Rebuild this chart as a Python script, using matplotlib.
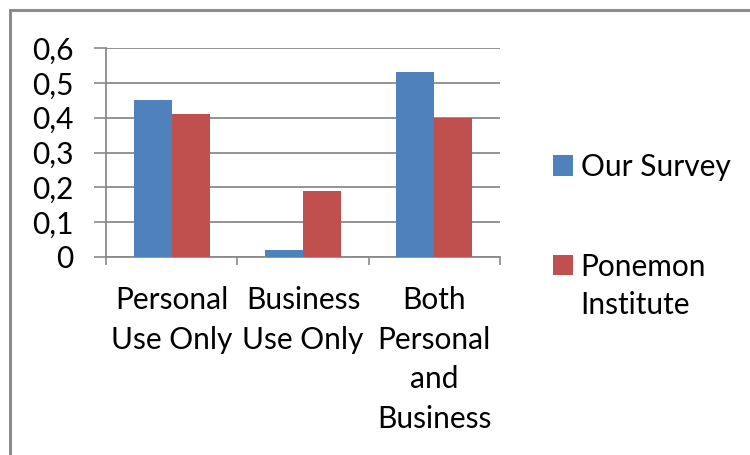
import matplotlib.pyplot as plt
from matplotlib.patches import Rectangle

# usage categories and survey shares
categories = ["Personal\nUse Only", "Business\nUse Only", "Both\nPersonal\nand\nBusiness"]
our_survey = [0.45, 0.02, 0.53]
ponemon = [0.41, 0.19, 0.40]
yticks = [0, 0.1, 0.2, 0.3, 0.4, 0.5, 0.6]
ytick_labels = ["0", "0,1", "0,2", "0,3", "0,4", "0,5", "0,6"]

BLUE = "#4F81BD"
RED = "#C0504D"
GRID = "#8a8a8a"
FS = 21.5

plt.rcParams["font.family"] = ["Lato", "DejaVu Sans"]

fig = plt.figure(figsize=(7.5, 4.55), dpi=100)
ax = fig.add_axes([106 / 750, 1 - 257 / 455, 394 / 750, 209 / 455])

x = list(range(len(categories)))
w = 0.29
ax.bar([i - w / 2 for i in x], our_survey, w, color=BLUE, label="Our Survey", zorder=3)
ax.bar([i + w / 2 for i in x], ponemon, w, color=RED, label="Ponemon", zorder=3)

ax.set_xlim(-0.5, len(categories) - 0.5)
ax.set_ylim(0, 0.6)

ax.set_yticks(yticks)
ax.set_yticklabels(ytick_labels)
ax.yaxis.grid(True, color=GRID, linewidth=1.3, zorder=0)
ax.tick_params(axis="y", length=8.5, width=1.2, color=GRID, pad=15, labelsize=FS)

# boundary ticks between groups, labels centred under each group
ax.set_xticks([i - 0.5 for i in range(len(categories) + 1)])
ax.set_xticklabels([])
ax.set_xticks(x, minor=True)
ax.set_xticklabels(categories, minor=True, linespacing=1.5)
ax.tick_params(axis="x", which="major", length=6, width=1.2, color=GRID)
ax.tick_params(axis="x", which="minor", length=0, pad=21, labelsize=FS)

for side in ["top", "right"]:
    ax.spines[side].set_visible(False)
for side in ["left", "bottom"]:
    ax.spines[side].set_color(GRID)
    ax.spines[side].set_linewidth(1.3)

leg = ax.legend(loc="upper left", bbox_to_anchor=(538 / 750, 1 - 138 / 455),
                bbox_transform=fig.transFigure, frameon=False, fontsize=FS,
                handlelength=0.68, handleheight=0.68, handletextpad=0.25,
                labelspacing=2.4, borderpad=0)
# second line of the Ponemon label wraps under the text, not the swatch
fig.text(580 / 750, 1 - 305 / 455, "Institute", fontsize=FS, va="center", ha="left")

# outer chart frame
fig.patches.append(Rectangle((10 / 750, -0.1), 1.1, 1 - 10 / 455 + 0.1,
                             transform=fig.transFigure, fill=False,
                             edgecolor="#8c8c8c", linewidth=2.2))

fig.savefig("out.png", dpi=100)
